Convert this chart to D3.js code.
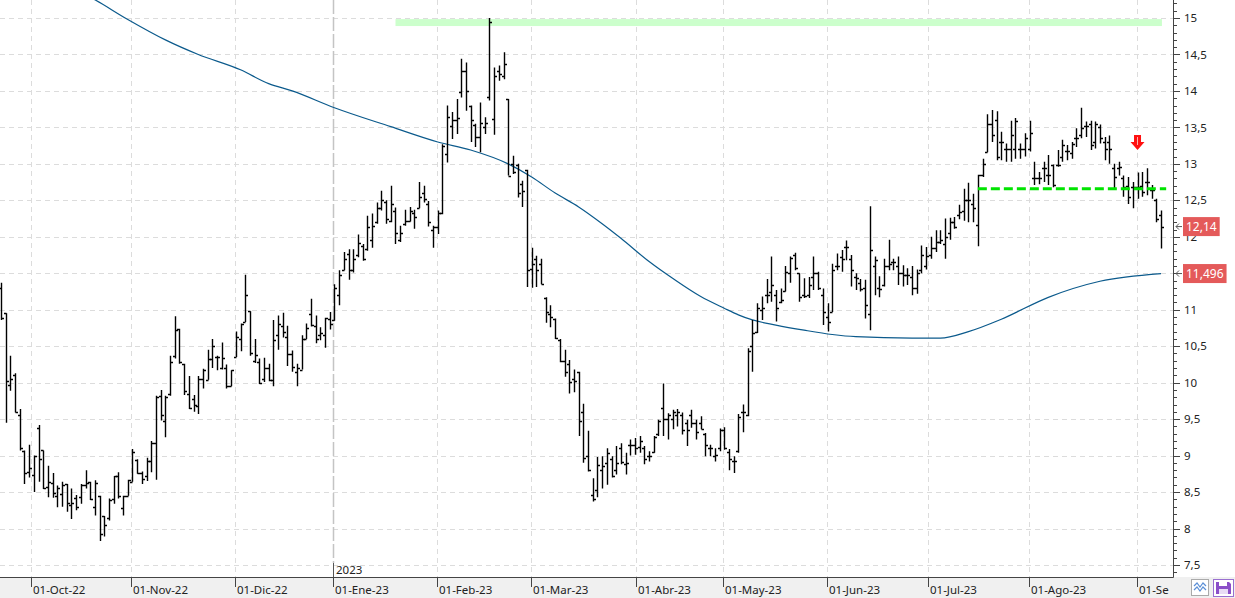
<!DOCTYPE html>
<html>
<head>
<meta charset="utf-8">
<script src="https://cdn.jsdelivr.net/npm/d3@7"></script>
<style>
  html, body { margin: 0; padding: 0; background: #fff; }
  svg { display: block; font-family: "Noto Sans", sans-serif; }
</style>
</head>
<body>
<div id="chart"></div>
<script>
// daily bars: [open, high, low, close]
const bars = [
  [11.30,11.37,10.86,10.88],[10.95,10.95,9.45,10.02],[9.97,10.37,9.89,10.05],[10.10,10.13,9.59,9.60],
  [9.56,9.64,9.07,9.10],[9.06,9.07,8.61,8.76],[8.77,9.15,8.70,8.83],[8.73,9.00,8.50,9.00],
  [9.38,9.42,8.64,8.95],[9.07,9.07,8.54,8.55],[8.57,8.86,8.43,8.64],[8.62,8.76,8.42,8.48],
  [8.44,8.59,8.29,8.55],[8.47,8.64,8.30,8.59],[8.61,8.61,8.23,8.35],[8.32,8.55,8.13,8.35],
  [8.42,8.46,8.25,8.30],[8.43,8.61,8.34,8.60],[8.60,8.80,8.55,8.62],[8.64,8.64,8.39,8.40],
  [8.30,8.66,8.18,8.62],[8.44,8.45,7.83,7.93],[8.17,8.17,7.89,8.05],[8.15,8.41,8.11,8.39],
  [8.40,8.72,8.34,8.72],[8.72,8.77,8.41,8.45],[8.28,8.45,8.18,8.45],[8.45,8.67,8.45,8.67],
  [8.64,9.09,8.64,9.05],[8.94,8.95,8.75,8.76],[8.76,8.78,8.61,8.68],[8.72,8.97,8.65,8.92],
  [8.92,9.20,8.77,9.17],[9.17,9.82,8.67,9.80],[9.82,9.90,9.48,9.56],[9.48,9.82,9.25,9.81],
  [9.84,10.37,9.82,10.28],[10.37,10.91,10.33,10.72],[10.74,10.74,10.26,10.28],[10.26,10.26,9.83,9.88],
  [9.84,10.09,9.64,9.65],[9.78,9.83,9.60,9.70],[9.68,10.09,9.57,10.05],[10.05,10.19,9.92,10.18],
  [10.04,10.45,10.04,10.33],[10.33,10.60,10.20,10.50],[10.35,10.37,10.17,10.35],[10.20,10.55,10.18,10.34],
  [10.20,10.25,9.92,9.95],[9.95,10.17,9.95,10.17],[10.35,10.70,10.35,10.62],[10.60,10.81,10.43,10.80],
  [10.83,11.48,10.83,11.20],[10.98,10.98,10.37,10.40],[10.30,10.60,10.27,10.38],[10.28,10.33,9.98,10.00],
  [10.05,10.34,10.01,10.20],[10.20,10.26,10.02,10.03],[10.03,10.86,9.95,10.58],[10.66,10.92,10.45,10.80],
  [10.77,10.96,10.62,10.70],[10.63,10.78,10.23,10.39],[10.39,10.44,10.15,10.22],[10.15,10.26,9.95,10.20],
  [10.18,10.65,10.18,10.60],[10.60,10.81,10.60,10.75],[10.94,11.15,10.77,10.79],[10.78,10.92,10.54,10.60],
  [10.66,10.76,10.58,10.68],[10.65,10.89,10.48,10.88],[10.87,10.97,10.73,10.80],[10.86,11.35,10.85,11.30],
  [11.20,11.54,11.06,11.48],[11.55,11.79,11.54,11.70],[11.76,11.83,11.41,11.55],[11.55,11.83,11.51,11.70],
  [11.75,12.03,11.72,11.92],[11.88,11.90,11.67,11.70],[11.83,12.29,11.81,12.14],[11.95,12.32,11.85,12.15],
  [12.20,12.47,12.18,12.40],[12.40,12.63,12.36,12.50],[12.48,12.50,12.18,12.25],[12.22,12.70,12.20,12.45],
  [12.35,12.40,11.90,12.05],[11.96,12.15,11.93,12.05],[12.17,12.37,12.15,12.21],[12.22,12.41,12.21,12.35],
  [12.33,12.37,12.11,12.27],[12.40,12.75,12.39,12.55],[12.60,12.70,12.47,12.52],[12.45,12.49,12.14,12.20],
  [12.10,12.15,11.85,12.13],[12.14,12.36,12.04,12.32],[12.32,13.27,12.31,13.25],[13.13,13.80,13.02,13.64],
  [13.52,13.71,13.34,13.60],[13.60,13.89,13.41,13.63],[13.98,14.44,13.91,14.27],[14.27,14.39,13.73,14.00],
  [13.80,13.80,13.30,13.60],[13.53,13.55,13.23,13.37],[13.37,13.84,13.16,13.56],[13.50,13.64,13.41,13.56],
  [13.92,15.00,13.87,14.94],[13.62,14.32,13.40,14.20],[14.27,14.35,14.14,14.23],[14.20,14.53,14.16,14.37],
  [13.89,13.89,12.84,12.84],[13.00,13.11,12.86,12.89],[12.98,13.00,12.54,12.60],[12.72,12.77,12.41,12.63],
  [12.91,12.92,11.31,11.55],[11.56,11.85,11.30,11.63],[11.70,11.74,11.31,11.55],[11.63,11.70,11.35,11.35],
  [11.16,11.17,10.82,10.97],[10.94,11.06,10.76,10.90],[10.87,10.88,10.60,10.61],[10.58,10.60,10.28,10.30],
  [10.30,10.45,10.08,10.15],[10.26,10.31,9.85,10.01],[10.05,10.18,9.87,10.02],[10.14,10.15,9.27,9.47],
  [9.60,9.71,8.90,8.96],[9.00,9.34,8.78,8.80],[8.46,8.69,8.37,8.41],[8.53,8.98,8.43,8.87],
  [8.80,8.99,8.55,8.86],[8.90,9.10,8.60,9.04],[8.95,8.99,8.70,8.72],[8.80,9.13,8.74,8.90],
  [9.10,9.17,8.88,8.91],[8.88,9.04,8.74,8.90],[9.15,9.22,9.00,9.15],[9.15,9.24,9.01,9.10],
  [9.12,9.27,9.04,9.20],[9.10,9.13,8.88,8.95],[9.00,9.06,8.92,8.99],[9.05,9.27,9.04,9.25],
  [9.29,9.49,9.27,9.48],[9.65,9.99,9.27,9.50],[9.50,9.58,9.22,9.56],[9.50,9.63,9.36,9.60],
  [9.55,9.64,9.40,9.60],[9.55,9.59,9.29,9.35],[9.45,9.49,9.13,9.35],[9.55,9.63,9.38,9.45],
  [9.45,9.49,9.22,9.33],[9.45,9.54,9.36,9.37],[9.30,9.31,8.99,9.15],[9.10,9.15,8.99,9.10],
  [9.00,9.10,8.92,9.01],[9.10,9.37,9.06,9.35],[9.35,9.39,9.08,9.10],[9.05,9.09,8.80,8.95],
  [8.93,8.99,8.76,8.93],[9.06,9.57,9.04,9.53],[9.60,9.70,9.32,9.60],[9.55,10.47,9.54,10.43],
  [10.50,10.86,10.15,10.68],[10.70,11.09,10.68,11.02],[11.00,11.18,10.86,11.02],[11.20,11.42,11.09,11.20],
  [11.24,11.73,11.11,11.34],[11.20,11.27,10.84,11.02],[11.10,11.29,11.09,11.14],[11.25,11.60,11.25,11.52],
  [11.50,11.73,11.37,11.71],[11.75,11.78,11.54,11.57],[11.50,11.50,11.11,11.18],[11.20,11.43,11.16,11.19],
  [11.20,11.45,11.16,11.34],[11.45,11.73,11.27,11.50],[11.50,11.52,11.27,11.30],[11.20,11.29,10.79,10.97],
  [10.90,11.09,10.70,10.83],[10.97,11.63,10.97,11.54],[11.60,11.77,11.54,11.60],[11.72,11.82,11.52,11.70],
  [11.86,11.95,11.68,11.86],[11.70,11.75,11.32,11.54],[11.45,11.50,11.27,11.43],[11.36,11.42,11.25,11.29],
  [11.30,11.41,10.88,11.06],[10.94,12.42,10.72,11.82],[11.60,11.73,11.20,11.68],[11.30,11.46,11.17,11.29],
  [11.34,11.70,11.32,11.60],[11.60,11.96,11.54,11.63],[11.65,11.70,11.54,11.66],[11.60,11.73,11.34,11.50],
  [11.50,11.61,11.32,11.47],[11.47,11.57,11.34,11.47],[11.45,11.60,11.20,11.30],[11.30,11.55,11.22,11.50],
  [11.55,11.88,11.50,11.75],[11.60,11.86,11.55,11.74],[11.75,12.00,11.70,11.84],[11.85,12.09,11.79,11.93],
  [11.93,12.09,11.90,11.96],[11.90,12.25,11.70,12.00],[12.05,12.26,11.96,12.20],[12.20,12.27,12.11,12.13],
  [12.30,12.44,12.24,12.34],[12.35,12.66,12.22,12.51],[12.50,12.74,12.20,12.51],[12.45,12.59,12.20,12.40],
  [12.16,12.85,11.87,12.85],[12.85,13.07,12.82,13.00],[13.16,13.68,13.16,13.55],[13.55,13.74,13.30,13.40],
  [13.60,13.72,13.05,13.10],[13.30,13.44,13.05,13.30],[13.20,13.28,13.03,13.21],[13.20,13.59,13.03,13.40],
  [13.20,13.63,13.07,13.59],[13.20,13.28,13.07,13.21],[13.20,13.42,13.10,13.35],[13.20,13.59,13.17,13.43],
  [12.80,13.03,12.71,12.80],[12.81,12.89,12.72,12.81],[12.94,13.03,12.75,12.94],[12.85,13.12,12.71,12.85],
  [12.98,12.99,12.68,12.71],[12.99,13.19,12.96,12.99],[13.10,13.33,13.03,13.26],[13.17,13.26,13.05,13.17],
  [13.15,13.30,13.07,13.27],[13.35,13.49,13.23,13.35],[13.40,13.77,13.35,13.49],[13.52,13.58,13.37,13.52],
  [13.55,13.59,13.19,13.26],[13.30,13.58,13.21,13.54],[13.50,13.54,13.28,13.35],[13.30,13.37,13.05,13.21],
  [13.30,13.39,13.00,13.21],[12.95,13.00,12.66,12.82],[12.95,13.03,12.84,12.96],[12.80,12.84,12.55,12.68],
  [12.70,12.82,12.45,12.55],[12.68,12.75,12.39,12.68],[12.68,12.88,12.52,12.68],[12.70,12.89,12.55,12.61],
  [12.75,12.94,12.57,12.75],[12.64,12.71,12.52,12.64],[12.50,12.52,12.20,12.25],[12.30,12.36,11.84,12.14]
];

// long moving average, read at a few bar positions: [bar index, value]
const movingAvg = [
  [18,15.32],[20,15.25],[27,14.98],[35,14.70],[42,14.50],[51,14.29],[57,14.10],[62,14.00],
  [71,13.77],[83,13.51],[93,13.30],[100,13.19],[108,13.00],[113,12.82],[118,12.60],[123,12.41],
  [128,12.18],[132,11.98],[138,11.66],[143,11.43],[149,11.18],[154,11.02],[157,10.93],[160,10.86],
  [165,10.79],[171,10.72],[177,10.66],[182,10.63],[194,10.61],[200,10.61],[206,10.70],[213,10.87],
  [223,11.17],[234,11.39],[247,11.496]
];

const monthLabels = ['01-Oct-22','01-Nov-22','01-Dic-22','01-Ene-23','01-Feb-23','01-Mar-23',
  '01-Abr-23','01-May-23','01-Jun-23','01-Jul-23','01-Ago-23','01-Se'];
const monthBars = [6.5, 28, 50, 71, 93, 113, 135.5, 154, 176, 197.5, 219, 242];
const yearLabel = '2023';
const yearBar = 71;

const priceTicks = [7.5, 8, 8.5, 9, 9.5, 10, 10.5, 11, 11.5, 12, 12.5, 13, 13.5, 14, 14.5, 15];

const resistanceBand = [14.89, 14.985];
const resistanceBars = [84, 247.2];
const supportLevel = 12.66;
const supportBars = [208, 248.1];
const signalBar = 242;
const signalPrice = 13.19;
const lastClose = 12.14;
const lastAvg = 11.496;

const W = 1235, H = 598;
const plotRight = 1173, plotBottom = 577;

const svg = d3.select('#chart').append('svg')
  .attr('width', W).attr('height', H)
  .attr('viewBox', [0, 0, W, H]);

const x = d3.scaleLinear().domain([0, bars.length - 1]).range([1, 1161]);
const y = d3.scaleLinear().domain([7.335, 15.247]).range([plotBottom, 0]);
const fmt = v => String(v).replace('.', ',');

// bottom band
svg.append('rect').attr('x', 0).attr('y', plotBottom).attr('width', W).attr('height', H - plotBottom)
  .attr('fill', '#f0f0f0');

svg.append('clipPath').attr('id', 'plot')
  .append('rect').attr('x', 0).attr('y', 0).attr('width', plotRight).attr('height', plotBottom);

const plot = svg.append('g').attr('clip-path', 'url(#plot)');

// grid
plot.append('g').selectAll('line').data(priceTicks).join('line')
  .attr('x1', 0).attr('x2', plotRight)
  .attr('y1', d => Math.round(y(d)) + 0.5).attr('y2', d => Math.round(y(d)) + 0.5)
  .attr('stroke', '#dcdcdc').attr('stroke-dasharray', '5,4');

plot.append('g').selectAll('line').data(monthBars.filter(d => d !== yearBar)).join('line')
  .attr('x1', d => Math.round(x(d)) - 0.5).attr('x2', d => Math.round(x(d)) - 0.5)
  .attr('y1', 0).attr('y2', plotBottom)
  .attr('stroke', '#dcdcdc').attr('stroke-dasharray', '5,4');

// year separator
plot.append('line')
  .attr('x1', Math.round(x(yearBar)) - 0.5).attr('x2', Math.round(x(yearBar)) - 0.5)
  .attr('y1', 0).attr('y2', 563)
  .attr('stroke', '#c4c4c4').attr('stroke-width', 1.5).attr('stroke-dasharray', '14,3');
plot.append('line')
  .attr('x1', Math.round(x(yearBar)) - 0.5).attr('x2', Math.round(x(yearBar)) - 0.5)
  .attr('y1', 563).attr('y2', plotBottom)
  .attr('stroke', '#555');
plot.append('text').attr('x', Math.round(x(yearBar)) + 2).attr('y', 574)
  .attr('font-size', 11.5).attr('fill', '#222').text(yearLabel);

// resistance band
plot.append('rect')
  .attr('x', x(resistanceBars[0])).attr('width', x(resistanceBars[1]) - x(resistanceBars[0]))
  .attr('y', y(resistanceBand[1])).attr('height', y(resistanceBand[0]) - y(resistanceBand[1]))
  .attr('fill', '#ccffcc');

// moving average
plot.append('path').datum(movingAvg)
  .attr('fill', 'none').attr('stroke', '#0b5a8c').attr('stroke-width', 1.2)
  .attr('d', d3.line().x(d => x(d[0])).y(d => y(d[1])).curve(d3.curveMonotoneX));

// OHLC bars
plot.append('g').selectAll('path').data(bars).join('path')
  .attr('fill', 'none').attr('stroke', '#000').attr('stroke-width', 1.4)
  .attr('d', (d, i) => {
    const cx = Math.round(x(i)) + 0.5;
    const yo = Math.round(y(d[0])) + 0.5, yc = Math.round(y(d[3])) + 0.5;
    return `M${cx},${y(d[1])}V${y(d[2])}M${cx - 2.5},${yo}H${cx}M${cx},${yc}H${cx + 2.5}`;
  });

// support line
plot.append('line')
  .attr('x1', x(supportBars[0])).attr('x2', x(supportBars[1]))
  .attr('y1', y(supportLevel)).attr('y2', y(supportLevel))
  .attr('stroke', '#00e400').attr('stroke-width', 3).attr('stroke-dasharray', '9,4');

// sell signal arrow
const ax = x(signalBar), ay = y(signalPrice);
plot.append('path')
  .attr('d', `M${ax - 3.5},${ay - 15}H${ax + 3.5}V${ay - 8}H${ax + 7}L${ax},${ay}L${ax - 7},${ay - 8}H${ax - 3.5}Z`)
  .attr('fill', '#ff1010');
plot.append('line').attr('x1', ax).attr('x2', ax).attr('y1', ay - 13).attr('y2', ay - 5)
  .attr('stroke', '#ffb0b0').attr('stroke-width', 1);

// axes lines
svg.append('line').attr('x1', 0).attr('x2', plotRight + 0.5)
  .attr('y1', plotBottom + 0.5).attr('y2', plotBottom + 0.5).attr('stroke', '#444');
svg.append('line').attr('x1', plotRight + 0.5).attr('x2', plotRight + 0.5)
  .attr('y1', 0).attr('y2', plotBottom + 0.5).attr('stroke', '#444');

// right axis ticks
const minor = d3.range(74, 153).map(v => v / 10);
svg.append('g').selectAll('line').data(minor).join('line')
  .attr('x1', plotRight).attr('x2', d => plotRight + (Math.abs(d * 2 - Math.round(d * 2)) < 1e-6 ? 7 : 4))
  .attr('y1', d => Math.round(y(d)) + 0.5).attr('y2', d => Math.round(y(d)) + 0.5)
  .attr('stroke', '#444');

// tick labels; the one fully hidden under the average tag is left out, as in the original
const tags = [lastClose, lastAvg];
svg.append('g').selectAll('text')
  .data(priceTicks.filter(t => tags.every(v => Math.abs(y(t) - y(v)) > 6))).join('text')
  .attr('x', 1184).attr('y', d => y(d)).attr('dy', '0.36em')
  .attr('font-size', 11.5).attr('fill', '#222')
  .text(fmt);

// last value tags
tags.forEach(v => {
  const cy = y(v);
  const g = svg.append('g');
  const t = g.append('text').attr('x', 1186).attr('y', cy).attr('dy', '0.36em')
    .attr('font-size', 12).attr('fill', '#fff').text(fmt(v));
  const w = t.node().getComputedTextLength();
  g.insert('rect', 'text').attr('x', 1183).attr('y', cy - 9.5).attr('width', w + 6).attr('height', 19)
    .attr('fill', '#e45a5a');
  g.append('path').attr('d', `M1182,${cy}H1176M1179,${cy - 3}L1176,${cy}L1179,${cy + 3}`)
    .attr('fill', 'none').attr('stroke', '#555');
});

// month axis
const xAxis = svg.append('g');
xAxis.selectAll('line').data(monthBars).join('line')
  .attr('x1', d => Math.round(x(d)) - 0.5).attr('x2', d => Math.round(x(d)) - 0.5)
  .attr('y1', plotBottom).attr('y2', 587).attr('stroke', '#444');
xAxis.selectAll('text').data(monthLabels).join('text')
  .attr('x', (d, i) => Math.round(x(monthBars[i])) + 1).attr('y', 594)
  .attr('font-size', 11.5).attr('fill', '#222').text(d => d);

// small toolbar icons
svg.append('rect').attr('x', 1191.5).attr('y', 579.5).attr('width', 17).attr('height', 16)
  .attr('fill', '#fff').attr('stroke', '#aaa');
svg.append('path').attr('d', 'M1194,586L1197,583L1200,587L1203,583L1206,586M1194,590L1197,587L1200,591L1203,587L1206,590')
  .attr('fill', 'none').attr('stroke', '#5b8fd6').attr('stroke-width', 1.2);
svg.append('rect').attr('x', 1213.5).attr('y', 579.5).attr('width', 20).attr('height', 17)
  .attr('fill', '#fff').attr('stroke', '#9a6fd0');
svg.append('path').attr('d', 'M1216,582H1229L1231,584V594H1216Z')
  .attr('fill', '#8b4fc8');
svg.append('rect').attr('x', 1219).attr('y', 582).attr('width', 8).attr('height', 4).attr('fill', '#fff');
svg.append('rect').attr('x', 1219).attr('y', 589).attr('width', 9).attr('height', 5).attr('fill', '#e8dcf5');
</script>
</body>
</html>
